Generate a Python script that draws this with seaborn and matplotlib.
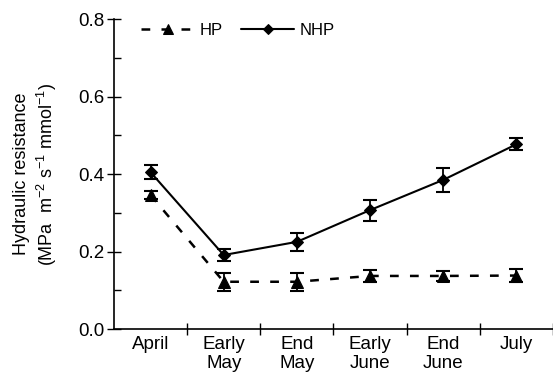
import matplotlib
matplotlib.use("Agg")
import matplotlib.pyplot as plt
import seaborn as sns
import numpy as np
import pandas as pd
from matplotlib.ticker import FixedLocator, MultipleLocator

# Sampling periods
periods = ["April", "Early\nMay", "End\nMay", "Early\nJune", "End\nJune", "July"]

# Hydraulic resistance (MPa m-2 s-1 mmol-1), mean and SE
hp_mean = [0.346, 0.122, 0.122, 0.137, 0.137, 0.138]
hp_err = [0.010, 0.023, 0.023, 0.015, 0.014, 0.016]
nhp_mean = [0.405, 0.191, 0.225, 0.307, 0.385, 0.477]
nhp_err = [0.018, 0.016, 0.023, 0.027, 0.032, 0.015]

sns.set_theme(style="ticks", rc={
    "text.color": "black", "axes.labelcolor": "black",
    "xtick.color": "black", "ytick.color": "black",
    "axes.edgecolor": "black",
})
plt.rcParams["font.family"] = ["Liberation Sans", "DejaVu Sans"]
plt.rcParams["mathtext.fontset"] = "custom"
plt.rcParams["mathtext.rm"] = "Liberation Sans"
plt.rcParams["mathtext.it"] = "Liberation Sans"

x = np.arange(len(periods))
df = pd.DataFrame({
    "x": np.concatenate([x, x]),
    "value": hp_mean + nhp_mean,
    "group": ["HP"] * len(x) + ["NHP"] * len(x),
})

fig = plt.figure(figsize=(5.53, 3.76), dpi=100)
ax = fig.add_axes([0.206, 0.125, 0.794, 0.824])

sns.lineplot(data=df[df.group == "HP"], x="x", y="value", ax=ax, color="black",
             marker="^", markersize=9, linewidth=1.8, dashes=False,
             linestyle=(0, (3.5, 4.5)), label="HP", markeredgecolor="black",
             errorbar=None)
sns.lineplot(data=df[df.group == "NHP"], x="x", y="value", ax=ax, color="black",
             marker="D", markersize=6.5, linewidth=1.5, label="NHP",
             markeredgecolor="black", errorbar=None)

ax.errorbar(x, hp_mean, yerr=hp_err, fmt="none", ecolor="black",
            elinewidth=1.3, capsize=5, capthick=1.5)
ax.errorbar(x, nhp_mean, yerr=nhp_err, fmt="none", ecolor="black",
            elinewidth=1.3, capsize=5, capthick=1.5)

ax.set_xlim(-0.5, 5.5)
ax.set_ylim(0, 0.8)

# category labels at centres, separator ticks between categories
ax.xaxis.set_major_locator(FixedLocator(x + 0.5))
ax.xaxis.set_major_formatter(plt.NullFormatter())
ax.xaxis.set_minor_locator(FixedLocator(x))
ax.set_xticklabels(periods, minor=True, fontsize=13.5, linespacing=1.15)
ax.tick_params(axis="x", which="major", direction="inout", length=9, width=1)
ax.tick_params(axis="x", which="minor", length=0, pad=5)

ax.yaxis.set_major_locator(MultipleLocator(0.2))
ax.yaxis.set_minor_locator(MultipleLocator(0.1))
ax.yaxis.set_major_formatter(plt.FuncFormatter(lambda v, p: f"{v:.1f}"))
ax.tick_params(axis="y", which="major", direction="inout", length=10, width=1,
               labelsize=13.5, pad=2)
ax.tick_params(axis="y", which="minor", direction="in", length=5, width=1)

ax.set_xlabel("")
ax.set_ylabel("Hydraulic resistance\n(MPa  m$^{-2}$ s$^{-1}$ mmol$^{-1}$)",
              fontsize=13, linespacing=1.25, labelpad=14)

sns.despine(ax=ax)
for s in ["left", "bottom"]:
    ax.spines[s].set_linewidth(1.2)
    ax.spines[s].set_color("black")

ax.legend(loc="center left", ncol=2, frameon=False, fontsize=12,
          handlelength=3.2, handletextpad=0.3, columnspacing=1.1,
          bbox_to_anchor=(0.062, 0.963), borderaxespad=0, borderpad=0,
          markerscale=0.8)

fig.savefig("out.png", dpi=100)
